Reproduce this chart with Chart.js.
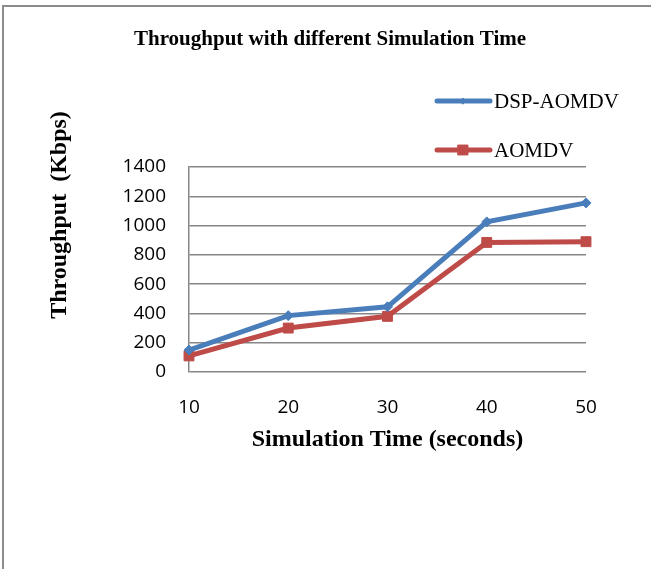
<!DOCTYPE html>
<html>
<head>
<meta charset="utf-8">
<title>Throughput with different Simulation Time</title>
<script src="https://cdn.jsdelivr.net/npm/chart.js@4"></script>
<style>
  html, body { margin: 0; padding: 0; background: #fff; overflow: hidden; }
  #frame {
    position: absolute; left: 2px; top: 5px; width: 700px; height: 600px;
    border-left: 2px solid #8c8c8c; border-top: 2px solid #8c8c8c;
  }
  #throughputChart { position: absolute; left: 0; top: 0; }
</style>
</head>
<body>
<div id="frame"></div>
<canvas id="throughputChart" width="651" height="569"></canvas>
<script>
// simulation time (s) on x, throughput (Kbps) on y
const simTimes = ['10', '20', '30', '40', '50'];
const dspAomdv = [150, 385, 445, 1025, 1155];
const aomdv = [110, 300, 380, 885, 890];
const yMin = 0;
const yMax = 1400;
const yStep = 200;

const serif = '"Liberation Serif", "Times New Roman", serif';
const gridColor = '#868686';

// title, axis titles and the legend are painted by hand
const textPlugin = {
    id: 'textPlugin',
    afterDraw(chart) {
        const ctx = chart.ctx;
        const area = chart.chartArea;
        ctx.save();
        ctx.fillStyle = '#000';
        ctx.textBaseline = 'middle';

        ctx.textAlign = 'center';
        ctx.font = 'bold 21px ' + serif;
        ctx.fillText('Throughput with different Simulation Time', 330, 40);

        ctx.font = 'bold 24px ' + serif;
        ctx.fillText('Simulation Time (seconds)', (area.left + area.right) / 2, 440);

        ctx.save();
        ctx.translate(60, 215);
        ctx.rotate(-Math.PI / 2);
        ctx.fillText('Throughput  (Kbps)', 0, 0);
        ctx.restore();

        // legend entries
        const rows = [101, 150];
        chart.data.datasets.forEach((ds, i) => {
            const y = rows[i];
            ctx.strokeStyle = ds.borderColor;
            ctx.fillStyle = ds.backgroundColor;
            ctx.lineWidth = ds.borderWidth;
            ctx.lineCap = 'round';
            ctx.beginPath();
            ctx.moveTo(437, y);
            ctx.lineTo(490, y);
            ctx.stroke();
            ctx.lineWidth = 1;
            Chart.helpers.drawPoint(ctx, {
                pointStyle: ds.pointStyle,
                radius: i === 0 ? 3 : ds.pointRadius,
                borderWidth: 1
            }, 463, y);
            ctx.fillStyle = '#000';
            ctx.textAlign = 'left';
            ctx.font = '21px ' + serif;
            ctx.fillText(ds.label, 494, y + 1);
        });
        ctx.restore();
    }
};

new Chart(document.getElementById('throughputChart'), {
    type: 'line',
    data: {
        labels: simTimes,
        datasets: [{
            label: 'DSP-AOMDV',
            data: dspAomdv,
            borderColor: '#4a7ebb',
            backgroundColor: '#4a7ebb',
            borderWidth: 5,
            pointStyle: 'rectRot',
            pointRadius: 5,
            pointBorderWidth: 1,
            clip: false
        }, {
            label: 'AOMDV',
            data: aomdv,
            borderColor: '#be4b48',
            backgroundColor: '#be4b48',
            borderWidth: 5,
            pointStyle: 'rect',
            pointRadius: 7,
            pointBorderWidth: 1,
            clip: false
        }]
    },
    options: {
        responsive: false,
        animation: false,
        layout: {
            padding: { left: 0, top: 167, right: 65, bottom: 0 }
        },
        plugins: {
            legend: { display: false },
            title: { display: false },
            tooltip: { enabled: false }
        },
        scales: {
            x: {
                offset: false,
                afterFit(scale) { scale.height = 197; },
                grid: { display: false, drawTicks: false },
                border: { display: false },
                ticks: {
                    padding: 24,
                    color: '#000',
                    font: { family: '"Open Sans", sans-serif', size: 19 }
                }
            },
            y: {
                min: yMin,
                max: yMax,
                afterFit(scale) { scale.width = 189; },
                grid: { color: gridColor, lineWidth: 1.5, drawTicks: false },
                border: { display: true, color: gridColor, width: 1.5 },
                ticks: {
                    stepSize: yStep,
                    padding: 23,
                    color: '#000',
                    font: { family: '"Open Sans", sans-serif', size: 19 },
                    callback: (value) => String(value)
                }
            }
        }
    },
    plugins: [textPlugin]
});
</script>
</body>
</html>
